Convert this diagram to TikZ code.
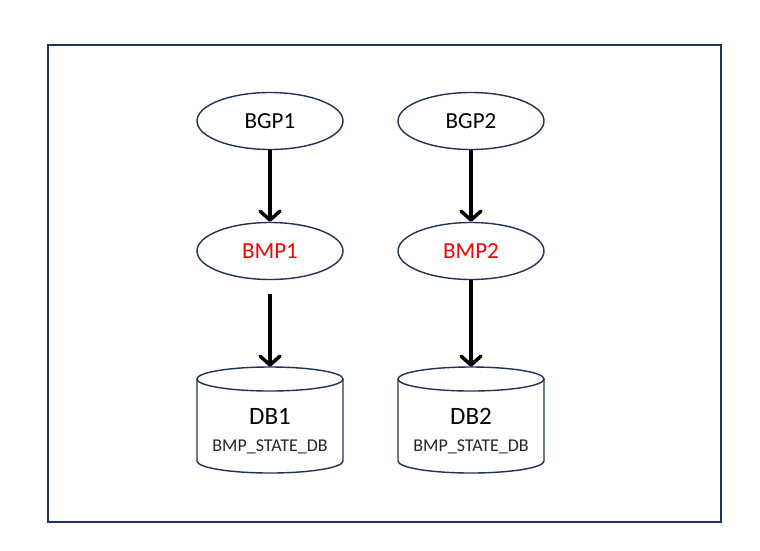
\documentclass[tikz,border=0pt]{standalone}
\usepackage{fontspec}
\setmainfont{Carlito}
\usetikzlibrary{shapes.geometric,arrows.meta}
\definecolor{navy}{HTML}{1F3354}
\definecolor{bmpred}{HTML}{FF0000}
\tikzset{
  frame/.style={draw=navy,line width=2pt},
  oval/.style={ellipse,draw=navy,line width=1.4pt,minimum width=146pt,minimum height=57pt,inner sep=0pt,font=\fontsize{23}{27}\selectfont},
  cylbox/.style={rectangle,minimum width=146pt,minimum height=106pt,inner sep=0pt},
  cylline/.style={draw=navy,line width=1.4pt},
  flow/.style={draw=black,line width=3.5pt,-{Straight Barb[length=9pt,width=20pt,line width=3.5pt,round]}},
  dbname/.style={font=\fontsize{25}{29}\selectfont,inner sep=0pt,anchor=base},
  dbsub/.style={font=\fontsize{18}{22}\selectfont,inner sep=0pt,text=black!85,anchor=base}
}
\begin{document}
\begin{tikzpicture}[x=1pt,y=-1pt]
\useasboundingbox (0,0) rectangle (760,550);
\fill[white] (0,0) rectangle (760,550);
\draw[frame] (48,45) rectangle (721,522);

\node[oval] (bgp1) at (270,121) {BGP1};
\node[oval] (bgp2) at (471,121) {BGP2};
\node[oval,text=bmpred] (bmp1) at (270,251) {BMP1};
\node[oval,text=bmpred] (bmp2) at (471,251) {BMP2};

% cylinders
\foreach \cx in {270,471}{
  \draw[cylline] (\cx-73,379) -- (\cx-73,461) arc[start angle=180,end angle=0,x radius=73,y radius=12] -- (\cx+73,379);
  \draw[cylline] (\cx,379) ellipse[x radius=73,y radius=12];
}
\node[cylbox] (db1) at (270,420) {};
\node[cylbox] (db2) at (471,420) {};
\node[dbname] (db1t) at (270,424) {DB1};
\node[dbname] (db2t) at (471,424) {DB2};
\node[dbsub] (db1s) at (270,451) {BMP\_STATE\_DB};
\node[dbsub] (db2s) at (471,451) {BMP\_STATE\_DB};

\draw[flow] (bgp1.south) -- (bmp1.north);
\draw[flow] (bgp2.south) -- (bmp2.north);
\draw[flow,shorten <=14pt] (bmp1.south) -- (db1.north);
\draw[flow] (bmp2.south) -- (db2.north);
\end{tikzpicture}
\end{document}
